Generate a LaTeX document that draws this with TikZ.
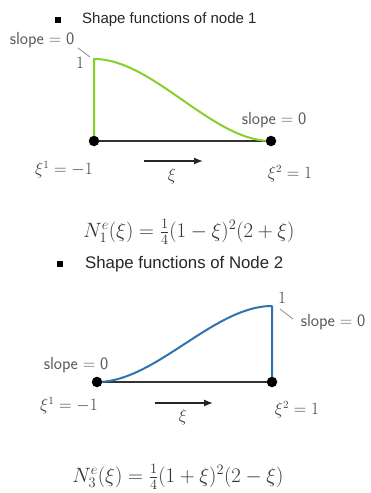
\documentclass[tikz,border=0pt]{standalone}
\usepackage{fontspec}
\newfontfamily\titlefont{Liberation Sans}
\usetikzlibrary{arrows.meta}
\definecolor{limegreen}{HTML}{86D02A}
\definecolor{cblue}{HTML}{2F73B0}
\begin{document}
\begin{tikzpicture}[x=1pt,y=-1pt,
  dot/.style={circle,fill=black,inner sep=0pt,minimum size=10.5pt},
  ttl/.style={anchor=west,inner sep=0pt,text=black!85,font=\titlefont\fontsize{15}{18}\selectfont},
  lbl/.style={inner sep=0pt,text=black!75,font=\fontsize{16}{19}\selectfont},
  slopelbl/.style={inner sep=0pt,text=black!65,font=\fontsize{17.5}{20}\selectfont},
  eqn/.style={inner sep=0pt,text=black!80,font=\fontsize{22}{25}\selectfont},
  bul/.style={fill=black,inner sep=0pt,minimum size=6pt},
  axisline/.style={draw=black!80,line width=1.6pt},
  lead/.style={draw=black!45,line width=0.8pt},
  xiarrow/.style={-{Latex[length=9pt,width=7pt]},line width=1.3pt,draw=black!85},
  curveA/.style={draw=limegreen,line width=2pt,line join=round},
  curveB/.style={draw=cblue,line width=2pt,line join=round},
  ]
\useasboundingbox (0,0) rectangle (370,493);

% ---------- node 1 ----------
\node[bul] (b1) at (58,20) {};
\node[ttl] (t1) at (82,20) {Shape functions of node 1};

\coordinate (a1) at (94,141);
\coordinate (c1) at (271,141);
\coordinate (top1) at (94,59);

\draw[axisline] (a1) -- (c1);
\draw[curveA] (a1) -- (top1) -- plot[domain=-1:1,samples=80,smooth]
  ({94+(\x+1)*88.5},{141-82*0.25*(1-\x)*(1-\x)*(2+\x)});
\node[dot] (n1a) at (a1) {};
\node[dot] (n1b) at (c1) {};

\node[slopelbl] (s1a) at (42,40) {$\mathsf{slope}=\mathsf{0}$};
\coordinate (l1) at (78,48);
\coordinate (l1e) at (90,57);
\draw[lead] (l1) -- (l1e);
\node[lbl] (one1) at (80,63) {$1$};
\node[slopelbl] (s1b) at (274,120) {$\mathsf{slope}=\mathsf{0}$};

\node[lbl] (x1a) at (64,170) {$\xi^1=-1$};
\node[lbl] (x1b) at (290,174) {$\xi^2=1$};
\coordinate (ar1s) at (144,161);
\coordinate (ar1e) at (203,161);
\draw[xiarrow] (ar1s) -- (ar1e);
\node[lbl] (xi1) at (172,176) {$\xi$};

\node[eqn] (f1) at (189,232) {$N_1^e(\xi)=\frac{1}{4}(1-\xi)^2(2+\xi)$};

% ---------- node 2 ----------
\node[bul] (b2) at (60,264) {};
\node[ttl,font=\titlefont\fontsize{16.8}{20}\selectfont] (t2) at (85,264) {Shape functions of Node 2};

\coordinate (a2) at (97,382);
\coordinate (c2) at (272,382);
\coordinate (top2) at (272,306);

\draw[axisline] (a2) -- (c2);
\draw[curveB] plot[domain=-1:1,samples=80,smooth]
  ({97+(\x+1)*87.5},{382-76*0.25*(1+\x)*(1+\x)*(2-\x)}) -- (top2) -- (c2);
\node[dot] (n2a) at (a2) {};
\node[dot] (n2b) at (c2) {};

\node[lbl] (one2) at (282,298) {$1$};
\coordinate (l2) at (280,309);
\coordinate (l2e) at (293,319);
\draw[lead] (l2) -- (l2e);
\node[slopelbl] (s2b) at (333,322) {$\mathsf{slope}=\mathsf{0}$};
\node[slopelbl] (s2a) at (76,365) {$\mathsf{slope}=\mathsf{0}$};

\node[lbl] (x2a) at (69,406) {$\xi^1=-1$};
\node[lbl] (x2b) at (297,410) {$\xi^2=1$};
\coordinate (ar2s) at (155,403);
\coordinate (ar2e) at (213,403);
\draw[xiarrow] (ar2s) -- (ar2e);
\node[lbl] (xi2) at (183,417) {$\xi$};

\node[eqn] (f2) at (178,477) {$N_3^e(\xi)=\frac{1}{4}(1+\xi)^2(2-\xi)$};
\end{tikzpicture}
\end{document}
